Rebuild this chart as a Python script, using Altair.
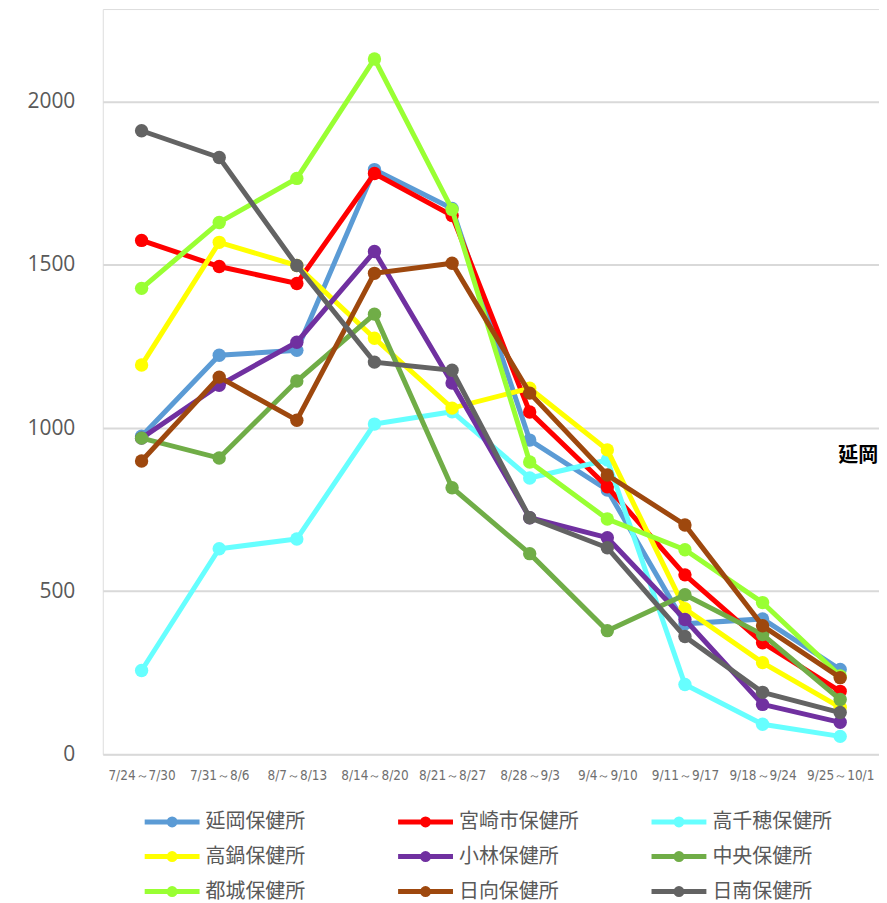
import altair as alt
import pandas as pd

weeks = ["7/24～7/30", "7/31～8/6", "8/7～8/13", "8/14～8/20", "8/21～8/27",
         "8/28～9/3", "9/4～9/10", "9/11～9/17", "9/18～9/24", "9/25～10/1"]

series_names = ["延岡保健所", "宮崎市保健所", "高千穂保健所", "高鍋保健所", "小林保健所",
                "中央保健所", "都城保健所", "日向保健所", "日南保健所"]
series_colors = ["#5b9bd5", "#ff0000", "#66ffff", "#ffff00", "#7030a0",
                 "#70ad47", "#99ff33", "#9e480e", "#636363"]

nobeoka = [975, 1223, 1238, 1792, 1673, 963, 810, 400, 415, 260]
miyazaki = [1575, 1495, 1443, 1780, 1651, 1049, 820, 550, 342, 193]
takachiho = [257, 630, 660, 1012, 1050, 847, 902, 214, 92, 55]
takanabe = [1193, 1569, 1498, 1275, 1061, 1122, 933, 446, 281, 144]
kobayashi = [969, 1131, 1263, 1541, 1138, 725, 664, 413, 153, 98]
chuo = [969, 908, 1144, 1349, 817, 615, 379, 489, 367, 168]
miyakonojo = [1428, 1630, 1765, 2131, 1670, 896, 721, 627, 465, 240]
hyuga = [899, 1156, 1024, 1474, 1505, 1107, 856, 703, 394, 235]
nichinan = [1911, 1829, 1498, 1202, 1177, 725, 633, 361, 190, 128]

all_values = [nobeoka, miyazaki, takachiho, takanabe, kobayashi,
              chuo, miyakonojo, hyuga, nichinan]

y_ticks = [0, 500, 1000, 1500, 2000]

annotation_text = ["延岡"]
annotation_week = ["9/25～10/1"]
annotation_value = [915]

rows = []
for name, vals in zip(series_names, all_values):
    for w, v in zip(weeks, vals):
        rows.append({"week": w, "value": v, "series": name})
df = pd.DataFrame(rows)

ann_df = pd.DataFrame({"text": annotation_text, "week": annotation_week,
                       "value": annotation_value})

LEGEND_PATH = ("M-2.75,0H2.75 M0.3,0A0.3,0.3,0,1,1,-0.3,0A0.3,0.3,0,1,1,0.3,0Z")

x_enc = alt.X("week:N", sort=weeks, title=None,
              scale=alt.Scale(paddingInner=0, paddingOuter=0),
              axis=alt.Axis(labelAngle=0, labelFontSize=13.5,
                            labelFont="DejaVu Sans Condensed",
                            labelColor="#6f6f6f", labelPadding=14,
                            ticks=False, domain=False, grid=False))
y_enc = alt.Y("value:Q", title=None,
              scale=alt.Scale(domain=[0, 2284], nice=False, zero=True),
              axis=alt.Axis(values=y_ticks, format="d", labelFontSize=21,
                            labelFont="Open Sans", labelColor="#595959",
                            labelPadding=28, ticks=False, domain=False,
                            gridColor="#d9d9d9", gridWidth=2))
color_enc = alt.Color(
    "series:N",
    sort=series_names,
    scale=alt.Scale(domain=series_names, range=series_colors),
    legend=alt.Legend(
        title=None, orient="none", legendX=57, legendY=802,
        columns=3, direction="horizontal", gridAlign="all",
        columnPadding=63, rowPadding=8, padding=0,
        symbolType=LEGEND_PATH, symbolSize=400, symbolStrokeWidth=5,
        labelOffset=21, labelFontSize=20, labelFont="Noto Sans CJK JP",
        labelColor="#595959", labelLimit=300, symbolOpacity=1,
    ),
)

layers = []
for name in series_names:
    layer = (
        alt.Chart(df)
        .transform_filter(alt.datum.series == name)
        .mark_line(strokeWidth=5,
                   point=alt.OverlayMarkDef(filled=True, size=180, opacity=1))
        .encode(x=x_enc, y=y_enc, color=color_enc)
    )
    layers.append(layer)

ann = (
    alt.Chart(ann_df)
    .mark_text(font="Noto Sans CJK JP", fontWeight="bold", fontSize=20,
               color="#000000", dx=38, align="right", baseline="middle")
    .encode(x=alt.X("week:N", sort=weeks), y=alt.Y("value:Q"), text="text:N")
)

chart = (
    alt.layer(*layers, ann)
    .properties(width=778, height=747,
                padding={"left": 18, "top": 0, "right": 0, "bottom": 12})
    .configure_view(fill="#f2f2f2", stroke=None)
    .configure(background="#ffffff")
)

chart.save("out.html", embed_options={"renderer": "svg", "actions": False})
